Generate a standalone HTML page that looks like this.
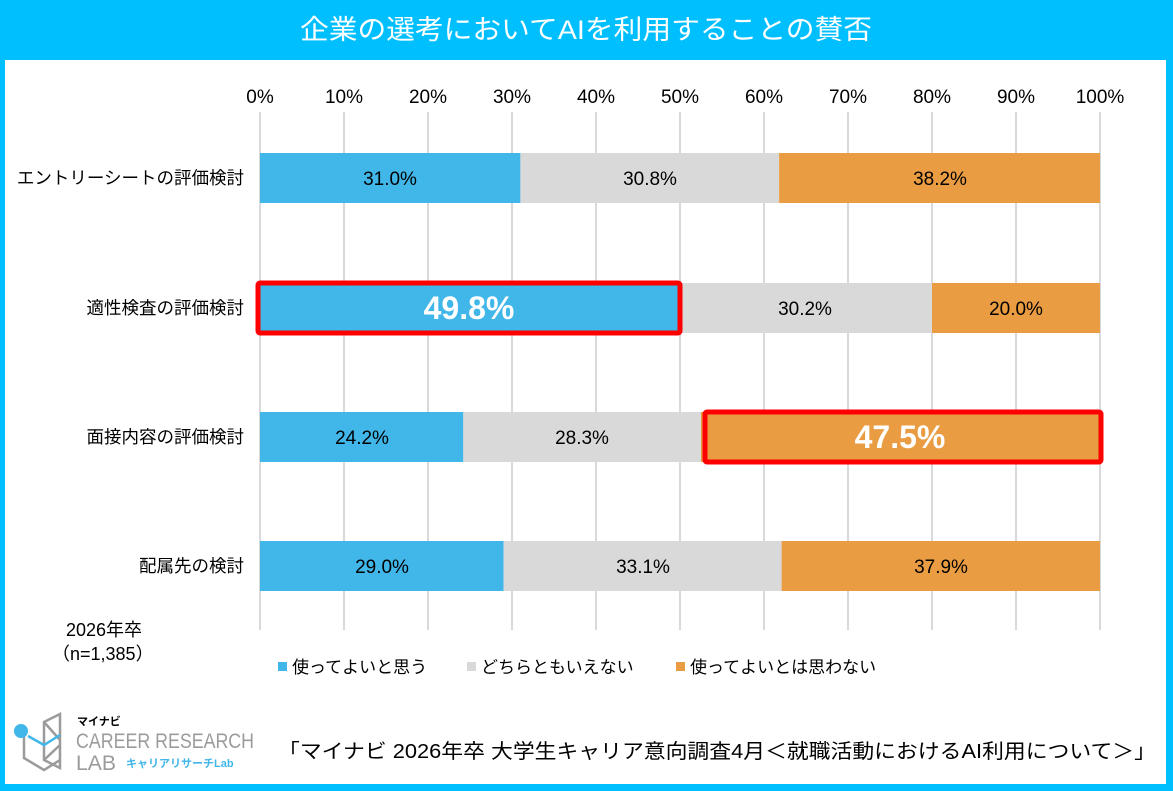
<!DOCTYPE html>
<html><head><meta charset="utf-8"><style>
html,body{margin:0;padding:0;background:#fff}
svg{display:block;font-family:"Liberation Sans","Noto Sans CJK JP",sans-serif}
</style></head><body>
<svg width="1173" height="791" viewBox="0 0 1173 791">
<rect x="0" y="0" width="1173" height="791" fill="#00BFFF"/>
<rect x="5" y="60" width="1161" height="724" fill="#fff"/>
<text x="300" y="39" font-size="27" fill="#fff" textLength="572" lengthAdjust="spacingAndGlyphs">企業の選考においてAIを利用することの賛否</text>
<g stroke="#D9D9D9" stroke-width="2">
<line x1="260" y1="112" x2="260" y2="630"/><line x1="344" y1="112" x2="344" y2="630"/><line x1="428" y1="112" x2="428" y2="630"/><line x1="512" y1="112" x2="512" y2="630"/><line x1="596" y1="112" x2="596" y2="630"/><line x1="680" y1="112" x2="680" y2="630"/><line x1="764" y1="112" x2="764" y2="630"/><line x1="848" y1="112" x2="848" y2="630"/><line x1="932" y1="112" x2="932" y2="630"/><line x1="1016" y1="112" x2="1016" y2="630"/><line x1="1100" y1="112" x2="1100" y2="630"/>
</g>
<g font-size="19" fill="#000" text-anchor="middle">
<text x="260" y="103">0%</text><text x="344" y="103">10%</text><text x="428" y="103">20%</text><text x="512" y="103">30%</text><text x="596" y="103">40%</text><text x="680" y="103">50%</text><text x="764" y="103">60%</text><text x="848" y="103">70%</text><text x="932" y="103">80%</text><text x="1016" y="103">90%</text><text x="1100" y="103">100%</text>
</g>
<g font-size="17.5" fill="#000" text-anchor="end">
<text x="244" y="184">エントリーシートの評価検討</text>
<text x="244" y="314">適性検査の評価検討</text>
<text x="244" y="443">面接内容の評価検討</text>
<text x="244" y="572">配属先の検討</text>
</g>
<rect x="260" y="153" width="260.4" height="50" fill="#41B6E9"/>
<rect x="520.4" y="153" width="258.7" height="50" fill="#D9D9D9"/>
<rect x="779.1" y="153" width="320.9" height="50" fill="#EA9C43"/>
<rect x="260" y="283" width="418.3" height="50" fill="#41B6E9"/>
<rect x="678.3" y="283" width="253.7" height="50" fill="#D9D9D9"/>
<rect x="932" y="283" width="168" height="50" fill="#EA9C43"/>
<rect x="260" y="412" width="203.3" height="50" fill="#41B6E9"/>
<rect x="463.3" y="412" width="237.7" height="50" fill="#D9D9D9"/>
<rect x="701" y="412" width="399" height="50" fill="#EA9C43"/>
<rect x="260" y="541" width="243.6" height="50" fill="#41B6E9"/>
<rect x="503.6" y="541" width="278" height="50" fill="#D9D9D9"/>
<rect x="781.6" y="541" width="318.4" height="50" fill="#EA9C43"/>
<rect x="258" y="283" width="422" height="50" fill="none" stroke="#FF0000" stroke-width="5" rx="2"/>
<rect x="705" y="412" width="396" height="50" fill="none" stroke="#FF0000" stroke-width="5" rx="2"/>
<g font-size="19" fill="#000" text-anchor="middle">
<text x="390" y="185">31.0%</text><text x="650" y="185">30.8%</text><text x="940" y="185">38.2%</text>
<text x="805" y="315">30.2%</text><text x="1016" y="315">20.0%</text>
<text x="362" y="444">24.2%</text><text x="582" y="444">28.3%</text>
<text x="382" y="573">29.0%</text><text x="643" y="573">33.1%</text><text x="941" y="573">37.9%</text>
</g>
<text x="469" y="319" font-size="32" font-weight="bold" fill="#fff" text-anchor="middle">49.8%</text>
<text x="900" y="448" font-size="32" font-weight="bold" fill="#fff" text-anchor="middle">47.5%</text>
<text x="66" y="636" font-size="18" fill="#000">2026年卒</text>
<text x="52" y="660" font-size="18" fill="#000">（n=1,385）</text>
<rect x="278" y="662" width="9" height="9" fill="#41B6E9"/>
<text x="292" y="673" font-size="17">使ってよいと思う</text>
<rect x="467" y="662" width="9" height="9" fill="#D9D9D9"/>
<text x="481" y="673" font-size="17">どちらともいえない</text>
<rect x="676" y="662" width="9" height="9" fill="#EA9C43"/>
<text x="690" y="673" font-size="17">使ってよいとは思わない</text>
<g fill="none" stroke="#9B9B9B" stroke-width="2.5">
<polygon points="44,722 60,714 60,768 44,760"/>
<line x1="44" y1="722" x2="60" y2="740"/>
<line x1="44" y1="760" x2="60" y2="745"/>
</g>
<polyline points="24,728 24,758 44,770 60,760" fill="none" stroke="#9B9B9B" stroke-width="2.5"/>
<circle cx="21" cy="731" r="7" fill="#41B6E9"/>
<polyline points="28,736 44,745 60,735" fill="none" stroke="#41B6E9" stroke-width="2.5"/>
<text x="77" y="725" font-size="11" font-weight="bold" fill="#000">マイナビ</text>
<text x="76" y="748" font-size="21" fill="#9B9B9B" textLength="178" lengthAdjust="spacingAndGlyphs">CAREER RESEARCH</text>
<text x="76" y="770" font-size="21" fill="#9B9B9B" textLength="40" lengthAdjust="spacingAndGlyphs">LAB</text>
<text x="126" y="767" font-size="11" font-weight="bold" fill="#41B6E9">キャリアリサーチLab</text>
<text x="278" y="758" font-size="20" fill="#000" textLength="878" lengthAdjust="spacingAndGlyphs">「マイナビ  2026年卒  大学生キャリア意向調査4月＜就職活動におけるAI利用について＞」</text>
</svg>
</body></html>
